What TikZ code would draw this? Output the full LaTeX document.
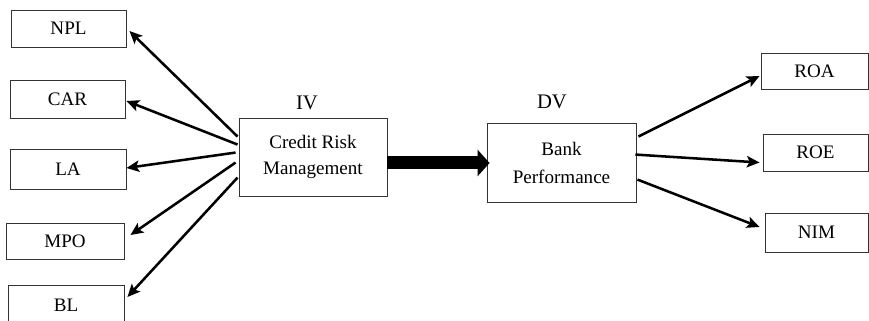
\documentclass[tikz,border=0pt]{standalone}
\usepackage{fontspec}
\setmainfont{Liberation Serif}
\usetikzlibrary{arrows.meta,calc}
\begin{document}
\begin{tikzpicture}[x=0.75pt,y=-0.75pt,
  box/.style={draw=black!80,line width=0.65pt,rectangle,inner sep=0pt,align=center,
    font=\fontsize{14.3}{20}\selectfont},
  lbl/.style={font=\fontsize{15.5}{18}\selectfont,inner sep=0pt},
  arr/.style={line width=1.9pt,-{Stealth[length=9.5pt,width=8.5pt,inset=2pt]}},
  bigarr/.style={line width=9.75pt,-{Triangle[length=9pt,width=19.5pt]}}]
\useasboundingbox (0,0) rectangle (869,321);
\clip (0,0) rectangle (869,321);
% left boxes
\node[box,minimum width=115*0.75pt,minimum height=37*0.75pt] (npl) at (68.5,28.5) {NPL};
\node[box,minimum width=115*0.75pt,minimum height=38*0.75pt] (car) at (67.5,99) {CAR};
\node[box,minimum width=116*0.75pt,minimum height=40*0.75pt] (la) at (68,169) {LA};
\node[box,minimum width=118*0.75pt,minimum height=36*0.75pt] (mpo) at (65,241) {MPO};
\node[box,minimum width=116*0.75pt,minimum height=40*0.75pt] (bl) at (66,305) {BL};
% centre boxes
\node[box,minimum width=148*0.75pt,minimum height=78*0.75pt] (crm) at (313,157) {Credit Risk\\Management};
\node[box,minimum width=149*0.75pt,minimum height=79*0.75pt,font=\fontsize{14.3}{21}\selectfont] (bp) at (561.5,162.5) {Bank\\Performance};
\node[lbl] (iv) at (307,103) {IV};
\node[lbl] (dv) at (552,102) {DV};
% right boxes
\node[box,minimum width=107*0.75pt,minimum height=36*0.75pt] (roa) at (814.5,71) {ROA};
\node[box,minimum width=105*0.75pt,minimum height=37*0.75pt] (roe) at (815.5,152.5) {ROE};
\node[box,minimum width=103*0.75pt,minimum height=39*0.75pt] (nim) at (816.5,232.5) {NIM};
% left arrows
\draw[arr] ($(crm.north west)+(-1,19)$) -- ($(npl.east)+(3,2.5)$);
\draw[arr] ($(crm.north west)+(-1,27)$) -- ($(car.east)+(1,2)$);
\draw[arr] ($(crm.north west)+(-3,35)$) -- ($(la.east)+(0,-1)$);
\draw[arr] ($(crm.north west)+(-3,45)$) -- ($(mpo.east)+(6,-6)$);
\draw[arr] ($(crm.north west)+(-1,60)$) -- ($(bl.east)+(3,-8)$);
% main arrow
\draw[bigarr] ($(crm.east)+(0,6)$) -- ($(bp.west)+(3,0.5)$);
% right arrows
\draw[arr] ($(bp.north east)+(2,14)$) -- ($(roa.west)+(-1,5)$);
\draw[arr] ($(bp.north east)+(-1,32)$) -- ($(roe.west)+(-3,10)$);
\draw[arr] ($(bp.north east)+(1,57)$) -- ($(nim.west)+(-5,-5.5)$);
\end{tikzpicture}
\end{document}
